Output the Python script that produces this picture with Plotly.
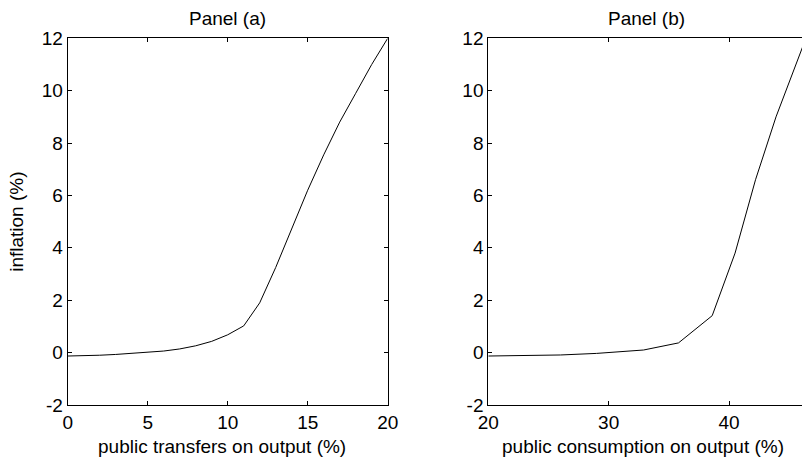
import plotly.graph_objects as go

# Panel (a): public transfers on output (%) vs inflation (%)
transfers = [0, 1, 2, 3, 4, 5, 6, 7, 8, 9, 10, 11, 12, 13, 14, 15, 16, 17, 18, 19, 20]
inflation_a = [-0.13, -0.12, -0.10, -0.07, -0.03, 0.01, 0.06, 0.14, 0.26, 0.43, 0.68,
               1.02, 1.9, 3.25, 4.75, 6.2, 7.55, 8.8, 9.9, 11.0, 12.0]

# Panel (b): public consumption on output (%) vs inflation (%)
consumption = [20.0, 23.0, 26.0, 29.0, 32.9, 35.8, 38.6, 40.5, 42.2, 43.9, 46.3]
inflation_b = [-0.13, -0.12, -0.09, -0.03, 0.10, 0.37, 1.41, 3.8, 6.6, 9.0, 11.9]

xticks_a = [0, 5, 10, 15, 20]
xticks_b = [20, 30, 40]
yticks = [-2, 0, 2, 4, 6, 8, 10, 12]
ytick_labels = ["-2", "0", "2", "4", "6", "8", "10", "12"]

W, H = 802, 462
FONT = "Liberation Sans, Arial, sans-serif"
FS = 19

fig = go.Figure()
fig.add_trace(go.Scatter(x=transfers, y=inflation_a, mode="lines",
                         line=dict(color="black", width=1), xaxis="x", yaxis="y",
                         showlegend=False))
fig.add_trace(go.Scatter(x=consumption, y=inflation_b, mode="lines",
                         line=dict(color="black", width=1), xaxis="x2", yaxis="y2",
                         showlegend=False))

ydom = [1 - 405 / H, 1 - 38.3 / H]
xdom_a = [67.7 / W, 387.7 / W]
xdom_b = [488.3 / W, 1.0]

axis_common = dict(showgrid=False, zeroline=False, showline=True, linecolor="black",
                   linewidth=1, ticks="inside", ticklen=4, tickcolor="black",
                   automargin=False,
                   tickfont=dict(family=FONT, size=FS, color="black"))


def label(text, x, y):
    return dict(text=text, x=x / W, y=1 - y / H, xref="paper", yref="paper",
                showarrow=False, xanchor="center", yanchor="middle",
                font=dict(family=FONT, size=FS, color="black"))


fig.update_layout(
    width=W, height=H,
    margin=dict(l=0, r=0, t=0, b=0, autoexpand=False),
    paper_bgcolor="white", plot_bgcolor="white",
    font=dict(family=FONT, size=FS, color="black"),
    xaxis=dict(domain=xdom_a, range=[0, 20], tickvals=xticks_a, mirror="ticks",
               anchor="y", **axis_common),
    yaxis=dict(domain=ydom, range=[-2, 12], tickvals=yticks, ticktext=ytick_labels,
               mirror="ticks", anchor="x",
               title=dict(text="inflation (%)", font=dict(family=FONT, size=FS), standoff=13),
               **axis_common),
    xaxis2=dict(domain=xdom_b, range=[20, 46.06], tickvals=xticks_b, mirror="ticks",
                anchor="y2", **axis_common),
    yaxis2=dict(domain=ydom, range=[-2, 12], tickvals=yticks, ticktext=ytick_labels,
                mirror=False, anchor="x2", **axis_common),
    annotations=[
        label("Panel (a)", 227.7, 18),
        label("Panel (b)", 646.7, 18),
        label("public transfers on output (%)", 222, 446.5),
        label("public consumption on output (%)", 643, 446.5),
    ],
)

fig.write_html("out.html", config={"displayModeBar": False},
               post_script="document.body.style.margin='0';")
